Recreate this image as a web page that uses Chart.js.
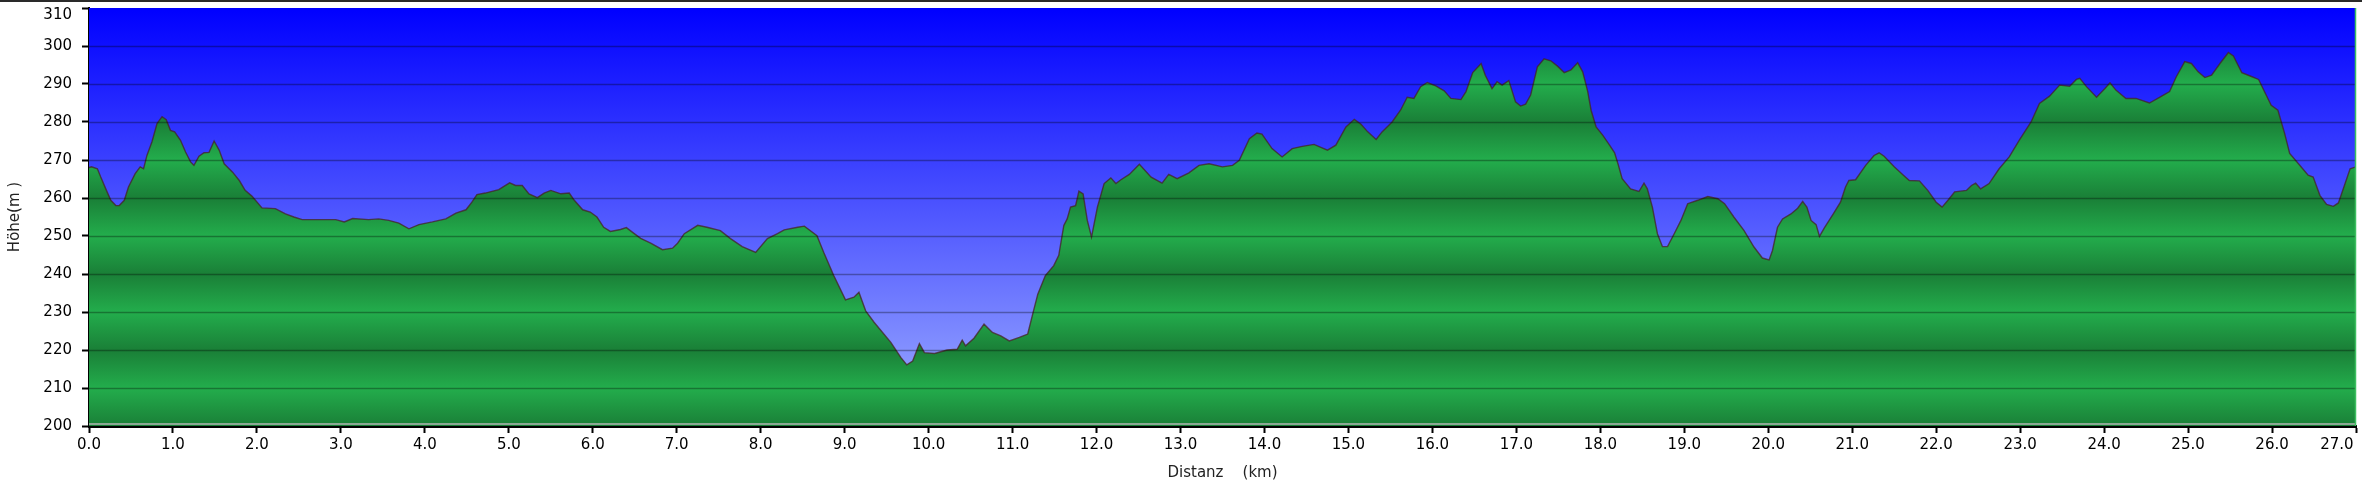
<!DOCTYPE html>
<html>
<head>
<meta charset="utf-8">
<title>Höhenprofil</title>
<script src="https://cdn.jsdelivr.net/npm/chart.js@4/dist/chart.umd.min.js"></script>
<style>
  html, body { margin: 0; padding: 0; background: #fff; }
  canvas { display: block; }
</style>
</head>
<body>
<canvas id="profile" width="2362" height="488"></canvas>
<script>
// Distance along the track (km) and elevation (m)
const distKm = [
  0.00, 0.03, 0.10, 0.14, 0.20, 0.26, 0.32, 0.36, 0.42, 0.47, 0.55, 0.61, 0.65, 0.69, 0.75, 0.81, 0.87, 0.92, 0.97,
  1.02, 1.09, 1.15, 1.21, 1.25, 1.31, 1.37, 1.43, 1.49, 1.55, 1.61, 1.71, 1.79, 1.86, 1.94,
  2.06, 2.22, 2.34, 2.44, 2.54, 2.74, 2.94, 3.04, 3.14, 3.33, 3.45, 3.57, 3.69, 3.81, 3.93,
  4.09, 4.25, 4.37, 4.49, 4.56, 4.62, 4.72, 4.88, 5.01, 5.08, 5.16, 5.24, 5.34, 5.42, 5.50, 5.62, 5.72, 5.78, 5.88, 5.97,
  6.05, 6.13, 6.21, 6.33, 6.40, 6.49, 6.57, 6.69, 6.83, 6.95, 7.01, 7.09, 7.25, 7.36, 7.52, 7.64, 7.78, 7.94,
  8.08, 8.20, 8.28, 8.44, 8.52, 8.67, 8.75, 8.87, 9.01, 9.11, 9.17, 9.25, 9.35, 9.55, 9.67, 9.74, 9.81, 9.89, 9.95,
  10.07, 10.22, 10.34, 10.40, 10.44, 10.54, 10.66, 10.76, 10.86, 10.96, 11.08, 11.18, 11.24, 11.30, 11.39, 11.49,
  11.55, 11.61, 11.65, 11.69, 11.75, 11.79, 11.84, 11.89, 11.94, 12.01, 12.09, 12.17, 12.23, 12.29, 12.39, 12.51,
  12.65, 12.78, 12.86, 12.96, 13.10, 13.22, 13.34, 13.50, 13.62, 13.70, 13.82, 13.91, 13.97, 14.09, 14.21, 14.33,
  14.45, 14.59, 14.75, 14.85, 14.97, 15.07, 15.15, 15.23, 15.33, 15.40, 15.52, 15.62, 15.70, 15.78, 15.86, 15.94,
  16.04, 16.14, 16.22, 16.34, 16.40, 16.48, 16.58, 16.63, 16.71, 16.77, 16.83, 16.91, 16.99, 17.05, 17.11, 17.17,
  17.25, 17.33, 17.41, 17.49, 17.57, 17.65, 17.73, 17.79, 17.85, 17.89, 17.95, 18.03, 18.11, 18.17, 18.21, 18.26,
  18.36, 18.46, 18.52, 18.56, 18.62, 18.68, 18.74, 18.80, 18.88, 18.96, 19.04, 19.16, 19.28, 19.40, 19.48, 19.59,
  19.71, 19.83, 19.93, 20.01, 20.05, 20.11, 20.17, 20.27, 20.35, 20.41, 20.46, 20.51, 20.57, 20.61, 20.67, 20.78,
  20.86, 20.92, 20.96, 21.04, 21.16, 21.26, 21.32, 21.38, 21.50, 21.60, 21.68, 21.80, 21.90, 22.00, 22.07, 22.14,
  22.22, 22.36, 22.42, 22.47, 22.53, 22.63, 22.75, 22.87, 22.99, 23.13, 23.23, 23.35, 23.47, 23.59, 23.67, 23.71,
  23.79, 23.91, 24.01, 24.07, 24.14, 24.26, 24.38, 24.54, 24.66, 24.78, 24.86, 24.96, 25.04, 25.12, 25.20, 25.28,
  25.38, 25.48, 25.54, 25.64, 25.74, 25.84, 25.93, 25.99, 26.07, 26.15, 26.21, 26.33, 26.43, 26.49, 26.57, 26.65,
  26.73, 26.79, 26.87, 26.93, 27.00
];
const elevM = [
  268.0, 268.2, 267.7, 265.5, 262.4, 259.4, 258.0, 258.0, 259.4, 262.9, 266.4, 268.2, 267.7, 271.2, 274.8, 279.6, 281.4, 280.6, 277.8,
  277.4, 275.2, 272.1, 269.5, 268.6, 271.0, 271.9, 272.0, 275.0, 272.6, 269.0, 266.8, 264.6, 262.0, 260.5,
  257.4, 257.2, 255.8, 255.0, 254.3, 254.3, 254.3, 253.7, 254.6, 254.3, 254.5, 254.1, 253.4, 251.9, 253.0,
  253.7, 254.5, 256.0, 256.9, 258.9, 260.9, 261.3, 262.2, 264.0, 263.3, 263.3, 261.1, 260.1, 261.3, 262.0, 261.1, 261.3, 259.4, 256.9, 256.3,
  255.0, 252.3, 251.2, 251.7, 252.2, 250.7, 249.4, 248.1, 246.4, 246.8, 248.1, 250.6, 252.8, 252.3, 251.4, 249.3, 247.2, 245.7,
  249.3, 250.6, 251.6, 252.3, 252.6, 250.1, 245.7, 239.6, 233.2, 233.9, 235.2, 230.3, 227.3, 222.0, 218.0, 216.1, 217.1, 221.7, 219.3,
  219.1, 220.0, 220.2, 222.6, 221.1, 223.1, 226.8, 224.6, 223.7, 222.4, 223.3, 224.2, 229.5, 234.7, 239.6, 242.2,
  244.9, 252.8, 254.5, 257.6, 258.0, 261.8, 261.1, 254.1, 249.7, 257.6, 263.8, 265.3, 263.8, 264.8, 266.2, 268.9,
  265.5, 263.9, 266.2, 265.1, 266.6, 268.6, 269.0, 268.2, 268.6, 269.9, 275.6, 277.1, 276.8, 273.0, 270.8, 273.0,
  273.6, 274.1, 272.6, 273.9, 278.7, 280.7, 279.4, 277.4, 275.4, 277.4, 280.0, 283.1, 286.5, 286.2, 289.3, 290.4,
  289.5, 288.2, 286.2, 285.9, 288.0, 293.0, 295.4, 292.3, 288.8, 290.6, 289.7, 290.9, 285.3, 284.2, 284.7, 287.1,
  294.5, 296.6, 296.1, 294.7, 293.0, 293.7, 295.6, 293.2, 288.0, 283.1, 278.7, 276.5, 273.9, 271.9, 269.0, 265.1,
  262.4, 261.7, 263.9, 262.4, 257.6, 250.6, 247.2, 247.2, 250.6, 254.1, 258.5, 259.4, 260.4, 259.8, 258.5, 255.0,
  251.5, 247.1, 244.2, 243.7, 246.2, 252.3, 254.5, 255.8, 257.3, 259.1, 257.6, 254.1, 253.0, 249.9, 252.2, 256.0,
  258.9, 262.9, 264.6, 264.8, 268.6, 271.2, 271.9, 271.0, 268.2, 266.2, 264.6, 264.5, 262.0, 258.9, 257.6, 259.4,
  261.6, 262.0, 263.3, 263.9, 262.4, 263.8, 267.7, 270.8, 275.2, 280.0, 284.9, 286.8, 289.7, 289.4, 291.2, 291.5,
  289.3, 286.5, 288.8, 290.3, 288.4, 286.2, 286.2, 285.0, 286.5, 288.0, 291.9, 295.9, 295.4, 293.2, 291.7, 292.3,
  295.4, 298.3, 297.4, 293.0, 292.1, 291.2, 287.1, 284.4, 283.1, 277.0, 271.7, 268.6, 266.0, 265.5, 260.7, 258.3,
  257.8, 258.7, 263.8, 267.7, 268.2
];

// Axis ranges and tick steps
const xMin = 0, xMax = 27, xStep = 1;
const yMin = 200, yMax = 310, yStep = 10;

const xTitle = 'Distanz    (km)';
const yTitle = 'Höhe(m )';

const fontFamily = "'DejaVu Sans', Verdana, sans-serif";

const points = distKm.map((d, i) => ({ x: d, y: elevM[i] }));

// Green fill: alternating light/dark bands every 10 m
function bandFill(context) {
  const chart = context.chart;
  const area = chart.chartArea;
  if (!area) return '#22a84a';
  const y = chart.scales.y;
  const g = chart.ctx.createLinearGradient(0, area.top, 0, area.bottom);
  const h = area.bottom - area.top;
  for (let v = yMin; v <= yMax; v += yStep) {
    const off = (y.getPixelForValue(v) - area.top) / h;
    const bright = ((v / 10) % 2) === 1;
    g.addColorStop(Math.min(1, Math.max(0, off)), bright ? '#23ad4c' : '#1a7f37');
  }
  return g;
}

const plotDecor = {
  id: 'plotDecor',
  beforeDatasetsDraw(chart) {
    const { ctx, chartArea: a } = chart;
    const g = ctx.createLinearGradient(0, a.top, 0, a.bottom);
    g.addColorStop(0, '#0000ff');
    g.addColorStop(1, '#a0b0ff');
    ctx.save();
    ctx.fillStyle = g;
    ctx.fillRect(a.left, a.top, a.right - a.left, a.bottom - a.top);
    ctx.restore();
  },
  afterDatasetsDraw(chart) {
    const { ctx, chartArea: a, scales } = chart;
    ctx.save();
    // horizontal grid lines on top of the area
    ctx.strokeStyle = 'rgba(0,0,0,0.32)';
    ctx.lineWidth = 1.6;
    scales.y.ticks.forEach(t => {
      if (t.value <= yMin || t.value >= yMax) return;
      const py = Math.round(scales.y.getPixelForValue(t.value)) + 0.5;
      ctx.beginPath();
      ctx.moveTo(a.left, py);
      ctx.lineTo(a.right, py);
      ctx.stroke();
    });
    // light line along the base and green edge on the right
    ctx.strokeStyle = '#b5b5b5';
    ctx.lineWidth = 1.5;
    ctx.beginPath();
    ctx.moveTo(a.left, a.bottom - 2);
    ctx.lineTo(a.right, a.bottom - 2);
    ctx.stroke();
    ctx.strokeStyle = '#3cc060';
    ctx.lineWidth = 1.5;
    ctx.beginPath();
    ctx.moveTo(a.right - 0.5, a.top);
    ctx.lineTo(a.right - 0.5, a.bottom);
    ctx.stroke();
    ctx.restore();
  },
  afterDraw(chart) {
    // frame line across the top of the picture
    const ctx = chart.ctx;
    ctx.save();
    ctx.fillStyle = '#2a2a2a';
    ctx.fillRect(0, 0, chart.width, 2);
    ctx.restore();
  }
};

new Chart(document.getElementById('profile'), {
  type: 'line',
  data: {
    datasets: [{
      label: 'Höhe',
      data: points,
      borderColor: 'rgba(70,35,35,0.75)',
      borderWidth: 1.4,
      backgroundColor: bandFill,
      pointRadius: 0,
      tension: 0,
      fill: 'start'
    }]
  },
  options: {
    responsive: false,
    animation: false,
    devicePixelRatio: 1,
    layout: { padding: { top: 8, right: 6, left: 0, bottom: 0 } },
    plugins: {
      legend: { display: false },
      tooltip: { enabled: false }
    },
    scales: {
      x: {
        type: 'linear',
        min: xMin,
        max: xMax,
        afterFit: function (scale) {
          scale.height = 62;
          scale.paddingLeft = 0;
          scale.paddingRight = 0;
        },
        border: { color: '#000', width: 3 },
        grid: {
          drawOnChartArea: false,
          drawTicks: true,
          tickLength: 7,
          tickWidth: 2,
          tickColor: '#000'
        },
        ticks: {
          stepSize: xStep,
          padding: 3,
          maxRotation: 0,
          autoSkip: false,
          color: '#000',
          font: { family: fontFamily, size: 15 },
          callback: function (value) {
            const s = Number(value).toFixed(1);
            // keep the last label inside the picture
            return value === xMax ? s + '        ' : s;
          }
        },
        title: {
          display: true,
          text: xTitle,
          color: '#222',
          padding: { top: 0, bottom: 6 },
          font: { family: fontFamily, size: 15 }
        }
      },
      y: {
        min: yMin,
        max: yMax,
        afterFit: function (scale) {
          scale.width = 89;
          scale.paddingTop = 0;
          scale.paddingBottom = 0;
        },
        border: { color: '#000', width: 2 },
        grid: {
          drawOnChartArea: false,
          drawTicks: true,
          tickLength: 7,
          tickWidth: 2,
          tickColor: '#000'
        },
        ticks: {
          stepSize: yStep,
          padding: 10,
          color: '#000',
          font: { family: fontFamily, size: 15, lineHeight: 1.0 },
          callback: function (value) {
            // top label sits a little lower so it stays inside the picture
            return value === yMax ? ['', String(value)] : String(value);
          }
        },
        title: {
          display: true,
          text: yTitle,
          color: '#222',
          padding: { top: 6, bottom: 0 },
          font: { family: fontFamily, size: 15 }
        }
      }
    }
  },
  plugins: [plotDecor]
});
</script>
</body>
</html>
